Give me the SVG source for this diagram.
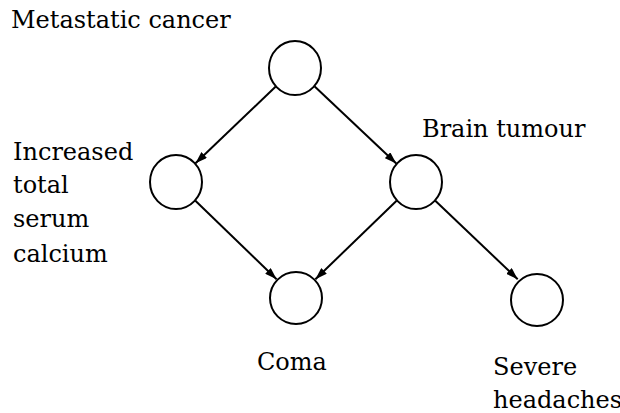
<svg xmlns="http://www.w3.org/2000/svg" width="620" height="413" viewBox="0 0 620 413">
<style>
.node{fill:#fff;stroke:#000;stroke-width:2}
.edge{stroke:#000;stroke-width:2;fill:none;marker-end:url(#arr)}
</style>
<defs>
<marker id="arr" viewBox="0 0 12 8" refX="12" refY="4" markerWidth="12" markerHeight="8" markerUnits="userSpaceOnUse" orient="auto">
<path d="M0,0 L12,4 L0,8 Z" fill="#000"/>
</marker>
</defs>
<rect width="620" height="413" fill="#fff"/>
<g id="connectors">
<line class="edge" x1="275.5" y1="86.7" x2="195.5" y2="163.3"/>
<line class="edge" x1="314.7" y1="86.5" x2="396.3" y2="163.5"/>
<line class="edge" x1="195.4" y1="200.8" x2="276.6" y2="279.2"/>
<line class="edge" x1="396.6" y1="200.8" x2="315.4" y2="279.2"/>
<line class="edge" x1="435.3" y1="200.8" x2="517.7" y2="279.2"/>
</g>
<g id="metastatic">
<ellipse class="node" cx="295" cy="68" rx="26" ry="27"/>
<text x="11" y="28" font-family="DejaVu Serif" font-size="24">Metastatic cancer</text>
</g>
<g id="calcium">
<ellipse class="node" cx="176" cy="182" rx="26" ry="27"/>
<text x="13" y="160" font-family="DejaVu Serif" font-size="24">Increased</text>
<text x="13" y="193" font-family="DejaVu Serif" font-size="24">total</text>
<text x="13" y="227" font-family="DejaVu Serif" font-size="24">serum</text>
<text x="13" y="262" font-family="DejaVu Serif" font-size="24">calcium</text>
</g>
<g id="tumour">
<ellipse class="node" cx="416" cy="182" rx="26" ry="27"/>
<text x="422" y="137" font-family="DejaVu Serif" font-size="24">Brain tumour</text>
</g>
<g id="coma">
<ellipse class="node" cx="296" cy="298" rx="26" ry="26"/>
<text x="257" y="370" font-family="DejaVu Serif" font-size="24">Coma</text>
</g>
<g id="headaches">
<ellipse class="node" cx="537" cy="300" rx="26" ry="26"/>
<text x="493" y="375" font-family="DejaVu Serif" font-size="24">Severe</text>
<text x="493" y="408" font-family="DejaVu Serif" font-size="24">headaches</text>
</g>
</svg>
